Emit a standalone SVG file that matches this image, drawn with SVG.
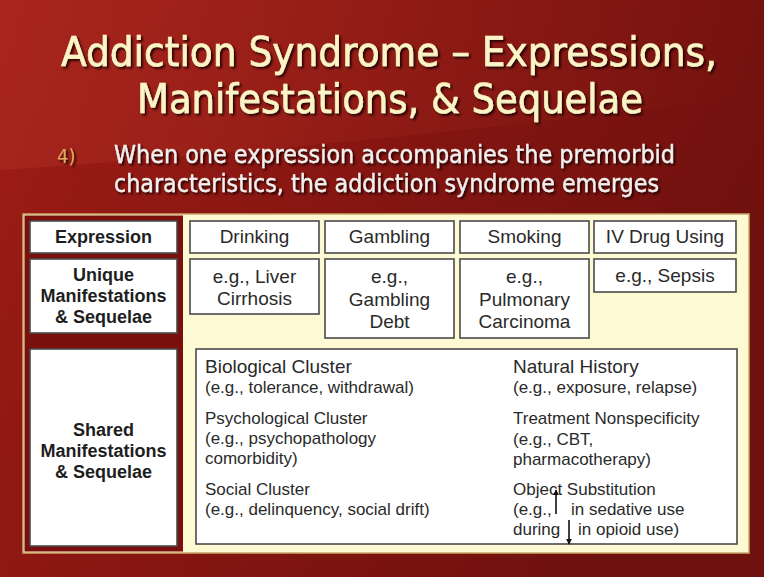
<svg xmlns="http://www.w3.org/2000/svg" width="764" height="577" viewBox="0 0 764 577">
<defs>
  <linearGradient id="bg" x1="0" y1="0" x2="1" y2="0.4">
    <stop offset="0" stop-color="#9f1d15"/>
    <stop offset="0.55" stop-color="#841511"/>
    <stop offset="1" stop-color="#6f110e"/>
  </linearGradient>
  <linearGradient id="sheen" x1="0" y1="0" x2="1" y2="0">
    <stop offset="0" stop-color="#c03a2c" stop-opacity="0.3"/>
    <stop offset="1" stop-color="#c03a2c" stop-opacity="0"/>
  </linearGradient>
  <filter id="shadow" x="-5%" y="-20%" width="110%" height="140%">
    <feDropShadow dx="2" dy="2" stdDeviation="0.8" flood-color="#1a0000" flood-opacity="0.9"/>
  </filter>
  <marker id="ah" viewBox="0 0 8 8" refX="7" refY="4" markerWidth="6" markerHeight="6" markerUnits="userSpaceOnUse" orient="auto">
    <path d="M0,0 L8,4 L0,8 Z" fill="#111"/>
  </marker>
  <style>
    .title { font-family: "DejaVu Sans Condensed", "DejaVu Sans", sans-serif; font-stretch: condensed; font-size: 41px; fill: #fbf4c6; stroke: #fbf4c6; stroke-width: 0.6; }
    .sub { font-family: "DejaVu Sans Condensed", "DejaVu Sans", sans-serif; font-stretch: condensed; font-size: 24.5px; fill: #f2f0ee; stroke: #f2f0ee; stroke-width: 0.3; }
    .num { font-family: "DejaVu Sans Condensed", "DejaVu Sans", sans-serif; font-stretch: condensed; font-size: 20px; fill: #e0a860; }
    .box { fill: #ffffff; stroke: #4a4a4a; stroke-width: 1.6; }
    .lbl { font-family: "Liberation Sans", Arial, sans-serif; font-size: 18px; font-weight: bold; fill: #1e1e1e; text-anchor: middle; }
    .cell { font-family: "Liberation Sans", Arial, sans-serif; font-size: 19px; fill: #2a2a2a; text-anchor: middle; }
    .h1 { font-family: "Liberation Sans", Arial, sans-serif; font-size: 19px; fill: #2a2a2a; }
    .t { font-family: "Liberation Sans", Arial, sans-serif; font-size: 17px; fill: #2a2a2a; }
    .arr { stroke: #111; stroke-width: 1.6; fill: none; }
  </style>
</defs>

<rect x="0" y="0" width="764" height="577" fill="url(#bg)"/>
<path d="M0,0 H764 V95 C560,120 300,150 0,170 Z" fill="url(#sheen)"/>

<g id="title" filter="url(#shadow)">
  <text class="title" x="61" y="66" textLength="656" lengthAdjust="spacingAndGlyphs">Addiction Syndrome – Expressions,</text>
  <text class="title" x="137" y="113" textLength="506" lengthAdjust="spacingAndGlyphs">Manifestations, &amp; Sequelae</text>
</g>
<g id="subtitle" filter="url(#shadow)">
  <text class="num" x="57" y="163">4)</text>
  <text class="sub" x="114" y="163" textLength="561" lengthAdjust="spacingAndGlyphs">When one expression accompanies the premorbid</text>
  <text class="sub" x="114" y="192" textLength="545" lengthAdjust="spacingAndGlyphs">characteristics, the addiction syndrome emerges</text>
</g>

<g id="panel">
  <rect x="23" y="214" width="726" height="339" fill="#fdf9d2" stroke="#c9a768" stroke-width="1.5"/>
  <rect x="24.5" y="215.5" width="158.5" height="336" fill="#7a100d"/>
</g>

<g id="expression">
  <rect class="box" x="30" y="221" width="147" height="32"/>
  <text class="lbl" x="103.5" y="243">Expression</text>
</g>
<g id="unique">
  <rect class="box" x="30" y="259" width="147" height="74"/>
  <text class="lbl" x="103.5" y="281">Unique</text>
  <text class="lbl" x="103.5" y="302">Manifestations</text>
  <text class="lbl" x="103.5" y="323">&amp; Sequelae</text>
</g>
<g id="shared">
  <rect class="box" x="30" y="349" width="147" height="197"/>
  <text class="lbl" x="103.5" y="436">Shared</text>
  <text class="lbl" x="103.5" y="457">Manifestations</text>
  <text class="lbl" x="103.5" y="478">&amp; Sequelae</text>
</g>

<g id="drinking">
  <rect class="box" x="190" y="221" width="129" height="32"/>
  <text class="cell" x="254.5" y="243">Drinking</text>
</g>
<g id="gambling">
  <rect class="box" x="325" y="221" width="129" height="32"/>
  <text class="cell" x="389.5" y="243">Gambling</text>
</g>
<g id="smoking">
  <rect class="box" x="460" y="221" width="129" height="32"/>
  <text class="cell" x="524.5" y="243">Smoking</text>
</g>
<g id="ivdrug">
  <rect class="box" x="594" y="221" width="142" height="32"/>
  <text class="cell" x="665" y="243">IV Drug Using</text>
</g>

<g id="liver">
  <rect class="box" x="190" y="259" width="129" height="55"/>
  <text class="cell" x="254.5" y="283">e.g., Liver</text>
  <text class="cell" x="254.5" y="305">Cirrhosis</text>
</g>
<g id="debt">
  <rect class="box" x="325" y="259" width="129" height="79"/>
  <text class="cell" x="389.5" y="283">e.g.,</text>
  <text class="cell" x="389.5" y="305.5">Gambling</text>
  <text class="cell" x="389.5" y="328">Debt</text>
</g>
<g id="pulmonary">
  <rect class="box" x="460" y="259" width="129" height="79"/>
  <text class="cell" x="524.5" y="283">e.g.,</text>
  <text class="cell" x="524.5" y="305.5">Pulmonary</text>
  <text class="cell" x="524.5" y="328">Carcinoma</text>
</g>
<g id="sepsis">
  <rect class="box" x="594" y="259" width="142" height="33"/>
  <text class="cell" x="665" y="282">e.g., Sepsis</text>
</g>

<g id="shared-details">
  <rect class="box" x="196" y="349" width="541" height="195"/>
  <text class="h1" x="205" y="373">Biological Cluster</text>
  <text class="t" x="205" y="393">(e.g., tolerance, withdrawal)</text>
  <text class="t" x="205" y="424">Psychological Cluster</text>
  <text class="t" x="205" y="444">(e.g., psychopathology</text>
  <text class="t" x="205" y="464">comorbidity)</text>
  <text class="t" x="205" y="495">Social Cluster</text>
  <text class="t" x="205" y="515">(e.g., delinquency, social drift)</text>

  <text class="h1" x="513" y="373">Natural History</text>
  <text class="t" x="513" y="393">(e.g., exposure, relapse)</text>
  <text class="t" x="513" y="424">Treatment Nonspecificity</text>
  <text class="t" x="513" y="445">(e.g., CBT,</text>
  <text class="t" x="513" y="465">pharmacotherapy)</text>
  <text class="t" x="513" y="495">Object Substitution</text>
  <text class="t" x="513" y="515">(e.g.,</text>
  <text class="t" x="571" y="515">in sedative use</text>
  <text class="t" x="513" y="535">during</text>
  <text class="t" x="578" y="535">in opioid use)</text>
</g>

<g id="connectors">
  <line class="arr" x1="556" y1="514" x2="556" y2="490" marker-end="url(#ah)"/>
  <line class="arr" x1="569" y1="520" x2="569" y2="544" marker-end="url(#ah)"/>
</g>
</svg>
